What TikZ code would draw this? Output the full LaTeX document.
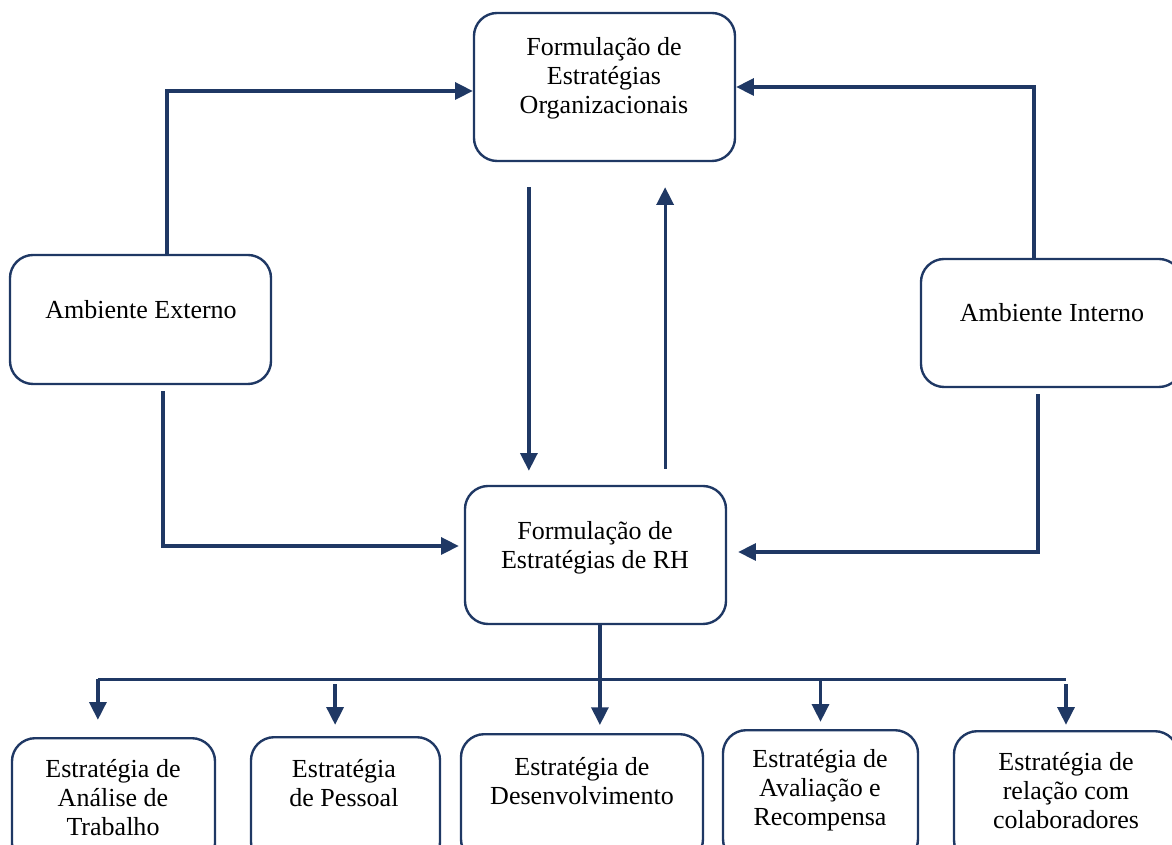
\documentclass[tikz,border=0pt]{standalone}
\usepackage{fontspec}
\setmainfont{Liberation Serif}
\usetikzlibrary{arrows.meta,positioning,calc}
\definecolor{navy}{HTML}{1F3864}

\begin{document}
\begin{tikzpicture}[x=0.025cm,y=-0.025cm]
    \tikzset{
      box/.style={rounded corners=0.58cm,draw=navy,line width=1.7pt,fill=white,inner sep=0pt},
      txt/.style={align=center,inner sep=0pt,font=\fontsize{18.5}{20.5}\selectfont},
      link/.style={draw=navy,line width=2.3pt},
      arrow/.style={link,-{Triangle[length=12.5pt,width=12pt]}}
    }
    \useasboundingbox (0,0) rectangle (1172,845);
    % upper part
    \node[box,minimum width=6.525cm,minimum height=3.7cm] (org) at (604.5,87) {};
    \node[box,minimum width=6.525cm,minimum height=3.225cm] (ext) at (140.5,319.5) {};
    \node[box,minimum width=6.525cm,minimum height=3.2cm] (int) at (1051.5,323) {};
    \node[box,minimum width=6.525cm,minimum height=3.45cm] (rh) at (595.5,555) {};
    \node[txt] (org-t) at (604,78) {Formulação de\\Estratégias\\Organizacionais};
    \node[txt] (ext-t) at (141,310) {Ambiente Externo};
    \node[txt] (int-t) at (1052,313) {Ambiente Interno};
    \node[txt] (rh-t) at (595,547.5) {Formulação de\\Estratégias de RH};
    % lower boxes
    \node[box,anchor=north,minimum width=5.075cm,minimum height=3.2cm] (b1) at (113.5,737) {};
    \node[box,anchor=north,minimum width=4.725cm,minimum height=3.2cm] (b2) at (345.5,736) {};
    \node[box,anchor=north,minimum width=6.05cm,minimum height=3.2cm] (b3) at (582,733) {};
    \node[box,anchor=north,minimum width=4.875cm,minimum height=3.3cm] (b4) at (820.5,729) {};
    \node[box,anchor=north,minimum width=5.6cm,minimum height=3.3cm] (b5) at (1066,730) {};
    \node[txt] (b1-t) at (113,797.5) {Estratégia de\\Análise de\\Trabalho};
    \node[txt] (b2-t) at (344,783) {Estratégia\\de Pessoal};
    \node[txt] (b3-t) at (582,781) {Estratégia de\\Desenvolvimento};
    \node[txt] (b4-t) at (820,790.5) {Estratégia de\\Avaliação e\\Recompensa};
    \node[txt] (b5-t) at (1066,790.5) {Estratégia de\\relação com\\colaboradores};
    % environment links
    \draw[arrow] ([xshift=0.66cm]ext.north) |- ([yshift=-0.1cm]org.west);
    \draw[arrow] ([xshift=-0.44cm]int.north) |- (org.east);
    \draw[arrow] ([xshift=0.56cm,yshift=-0.15cm]ext.south) |- ([xshift=-0.125cm,yshift=0.225cm]rh.west);
    \draw[arrow] ([xshift=-0.34cm,yshift=-0.15cm]int.south) |- ([xshift=0.275cm,yshift=0.075cm]rh.east);
    % between the two formulations
    \coordinate (dn) at ([xshift=-1.89cm,yshift=-0.62cm]org.south);
    \coordinate (up) at ([xshift=1.74cm,yshift=0.4cm]rh.north);
    \draw[arrow] (dn) -- ($(dn |- rh.north)+(0,0.35cm)$);
    \draw[arrow] (up) -- ($(up |- org.south)+(0,-0.625cm)$);
    % distribution to the strategies
    \coordinate (r0) at ([xshift=0.11cm]rh.south);
    \coordinate (t1) at ([xshift=-0.39cm,yshift=0.43cm]b1.north);
    \coordinate (t2) at ([xshift=-0.26cm,yshift=0.28cm]b2.north);
    \coordinate (t3) at ([yshift=0.2cm]b3.north);
    \coordinate (t4) at ([yshift=0.18cm]b4.north);
    \coordinate (t5) at ([yshift=0.13cm]b5.north);
    \coordinate (bar) at ([yshift=-1.35cm]rh.south);
    \coordinate (bar2) at ([yshift=-0.125cm]bar);
    \draw[link] (bar -| t1) -- (bar -| t5);
    \draw[arrow] (r0) -- (r0 |- t3);
    \draw[arrow] (bar -| t1) -- (t1);
    \draw[arrow] (bar2 -| t2) -- (t2);
    \draw[arrow] (bar -| t4) -- (t4);
    \draw[arrow] (bar2 -| t5) -- (t5);
  \end{tikzpicture}
\end{document}
